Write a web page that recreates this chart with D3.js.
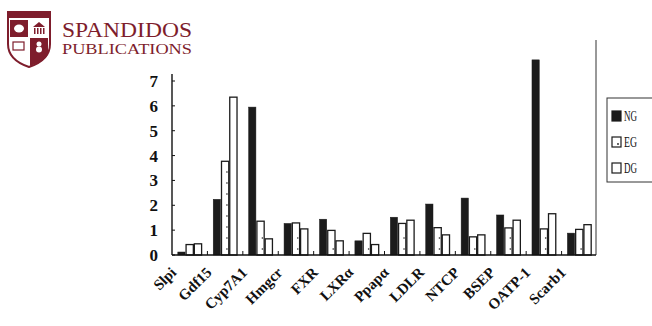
<!DOCTYPE html>
<html><head><meta charset="utf-8">
<script src="https://cdn.jsdelivr.net/npm/d3@7"></script>
<style>html,body{margin:0;padding:0;background:#fff;}svg{display:block;}</style>
</head><body>
<script>
const categories = ["Slpi","Gdf15","Cyp7A1","Hmgcr","FXR","LXRα","Ppapα","LDLR","NTCP","BSEP","OATP-1","Scarb1"];
const seriesNames = ["NG","EG","DG"];
const NG = [0.12, 2.24, 5.95, 1.27, 1.44, 0.57, 1.52, 2.05, 2.29, 1.61, 7.85, 0.88];
const EG = [0.42, 3.77, 1.36, 1.29, 0.99, 0.87, 1.27, 1.10, 0.73, 1.09, 1.05, 1.03];
const DG = [0.45, 6.35, 0.65, 1.05, 0.57, 0.42, 1.40, 0.81, 0.81, 1.40, 1.66, 1.22];
const yTicks = [0,1,2,3,4,5,6,7];

const W = 652, H = 326;
const svg = d3.select("body").append("svg").attr("width", W).attr("height", H);

// ---- logo ----
const maroon = "#7e1d2c";
const logo = svg.append("g");
const shieldPath = "M8,12 L50,12 L50,44 Q50,60 29,67 Q8,60 8,44 Z";
logo.append("path").attr("d", shieldPath).attr("fill", "#fff").attr("stroke", maroon).attr("stroke-width", 2);
logo.append("rect").attr("x", 9).attr("y", 12).attr("width", 40).attr("height", 6).attr("fill", maroon);
logo.append("rect").attr("x", 10).attr("y", 20).attr("width", 18).attr("height", 17).attr("fill", maroon);
logo.append("rect").attr("x", 30).attr("y", 38).attr("width", 18).attr("height", 17).attr("fill", maroon);
logo.append("path").attr("d", "M30,54 L48,54 Q46,61 30,66 Z").attr("fill", maroon);
logo.append("ellipse").attr("cx", 19).attr("cy", 28.5).attr("rx", 5).attr("ry", 4).attr("fill", "#fff");
logo.append("path").attr("d", "M33,27 L39,22 L45,27 Z").attr("fill", maroon);
[34,37,40,43].forEach(x => logo.append("rect").attr("x", x).attr("y", 28).attr("width", 1.5).attr("height", 6).attr("fill", maroon));
logo.append("rect").attr("x", 13).attr("y", 42).attr("width", 11).attr("height", 8).attr("fill", "none").attr("stroke", maroon).attr("stroke-width", 1.2);
logo.append("circle").attr("cx", 39).attr("cy", 44).attr("r", 2.5).attr("fill", "#fff");
logo.append("circle").attr("cx", 39).attr("cy", 49.5).attr("r", 3).attr("fill", "#fff");
logo.append("text").attr("x", 62).attr("y", 36.5).attr("font-family", "Liberation Serif, serif")
  .attr("font-size", 21).attr("fill", maroon).attr("textLength", 130).attr("lengthAdjust", "spacingAndGlyphs").text("SPANDIDOS");
logo.append("text").attr("x", 62).attr("y", 53.5).attr("font-family", "Liberation Serif, serif")
  .attr("font-size", 15).attr("fill", maroon).attr("textLength", 130).attr("lengthAdjust", "spacingAndGlyphs").text("PUBLICATIONS");

// ---- chart ----
const x0 = 172, x1 = 597, y0 = 255;
const x = d3.scaleBand().domain(categories).range([x0, x1]).paddingInner(0.3).paddingOuter(0.15);
const xs = d3.scaleBand().domain(seriesNames).range([0, x.bandwidth()]).padding(0);
const y = d3.scaleLinear().domain([0, 7]).range([y0, 81]);

const serif = "Liberation Serif, Times New Roman, serif";

// right border line
svg.append("line").attr("x1", 596).attr("x2", 596).attr("y1", 40).attr("y2", y0)
  .attr("stroke", "#333").attr("stroke-width", 1);

const series = {NG, EG, DG};
const rows = categories.map((c, i) => ({c, vals: seriesNames.map(s => ({s, v: series[s][i]}))}));

const groups = svg.append("g").selectAll("g").data(rows).join("g")
  .attr("transform", d => `translate(${x(d.c)},0)`);

groups.selectAll("rect").data(d => d.vals).join("rect")
  .attr("x", d => xs(d.s) + 0.5)
  .attr("y", d => y(d.v))
  .attr("width", xs.bandwidth() - 1)
  .attr("height", d => y0 - y(d.v))
  .attr("fill", d => d.s === "NG" ? "#1b1b1b" : "#fff")
  .attr("stroke", "#1b1b1b")
  .attr("stroke-width", d => d.s === "NG" ? 0.5 : 1.3);

// dotted texture in EG bars
groups.each(function(d) {
  const eg = d.vals.find(v => v.s === "EG");
  const top = y(eg.v), h = y0 - top;
  const n = Math.floor((h - 4) / 11);
  d3.select(this).selectAll("circle.dot").data(d3.range(n)).join("circle")
    .attr("class", "dot")
    .attr("cx", xs("EG") + xs.bandwidth() * 0.72)
    .attr("cy", k => y0 - 6 - k * 11)
    .attr("r", 0.8).attr("fill", "#222");
});

// axes
svg.append("line").attr("x1", x0).attr("x2", x1 - 1).attr("y1", y0).attr("y2", y0)
  .attr("stroke", "#111").attr("stroke-width", 1.6);
svg.append("line").attr("x1", x0).attr("x2", x0).attr("y1", 74).attr("y2", y0)
  .attr("stroke", "#111").attr("stroke-width", 1.4);

// x ticks between groups (inward)
const step = x.step();
svg.append("g").selectAll("line").data(categories.slice(1)).join("line")
  .attr("x1", d => x(d) - x.paddingInner() * step / 2)
  .attr("x2", d => x(d) - x.paddingInner() * step / 2)
  .attr("y1", y0).attr("y2", y0 - 4)
  .attr("stroke", "#111").attr("stroke-width", 1);

// y ticks and labels
svg.append("g").selectAll("line").data(yTicks).join("line")
  .attr("x1", x0).attr("x2", x0 + 3).attr("y1", d => y(d)).attr("y2", d => y(d))
  .attr("stroke", "#111").attr("stroke-width", 1);
svg.append("g").selectAll("text").data(yTicks).join("text")
  .attr("x", 158).attr("y", d => y(d)).attr("dy", "0.35em")
  .attr("text-anchor", "end").attr("font-family", serif).attr("font-weight", "bold")
  .attr("font-size", 17).attr("fill", "#111").text(d => d);

// category labels
svg.append("g").selectAll("text").data(categories).join("text")
  .attr("transform", d => `translate(${x(d) + x.bandwidth() / 2 - 20},266) rotate(-45)`)
  .attr("text-anchor", "end").attr("dy", "0.7em")
  .attr("font-family", serif).attr("font-weight", "bold").attr("font-size", 15)
  .attr("fill", "#111").text(d => d);

// legend
const lg = svg.append("g");
lg.append("rect").attr("x", 607).attr("y", 98).attr("width", 60).attr("height", 84)
  .attr("fill", "#fff").attr("stroke", "#333").attr("stroke-width", 1);
const ly = d3.scalePoint().domain(seriesNames).range([116, 168]);
lg.selectAll("rect.sw").data(seriesNames).join("rect").attr("class", "sw")
  .attr("x", 612).attr("y", d => ly(d) - 5).attr("width", 9).attr("height", 10)
  .attr("fill", d => d === "NG" ? "#1b1b1b" : "#fff").attr("stroke", "#1b1b1b").attr("stroke-width", 1.2);
lg.append("circle").attr("cx", 618).attr("cy", ly("EG") + 2).attr("r", 0.9).attr("fill", "#222");
lg.selectAll("text").data(seriesNames).join("text")
  .attr("x", 624).attr("y", d => ly(d)).attr("dy", "0.36em")
  .attr("font-family", serif).attr("font-size", 14).attr("fill", "#111")
  .attr("textLength", 13).attr("lengthAdjust", "spacingAndGlyphs").text(d => d);
</script>
</body></html>
